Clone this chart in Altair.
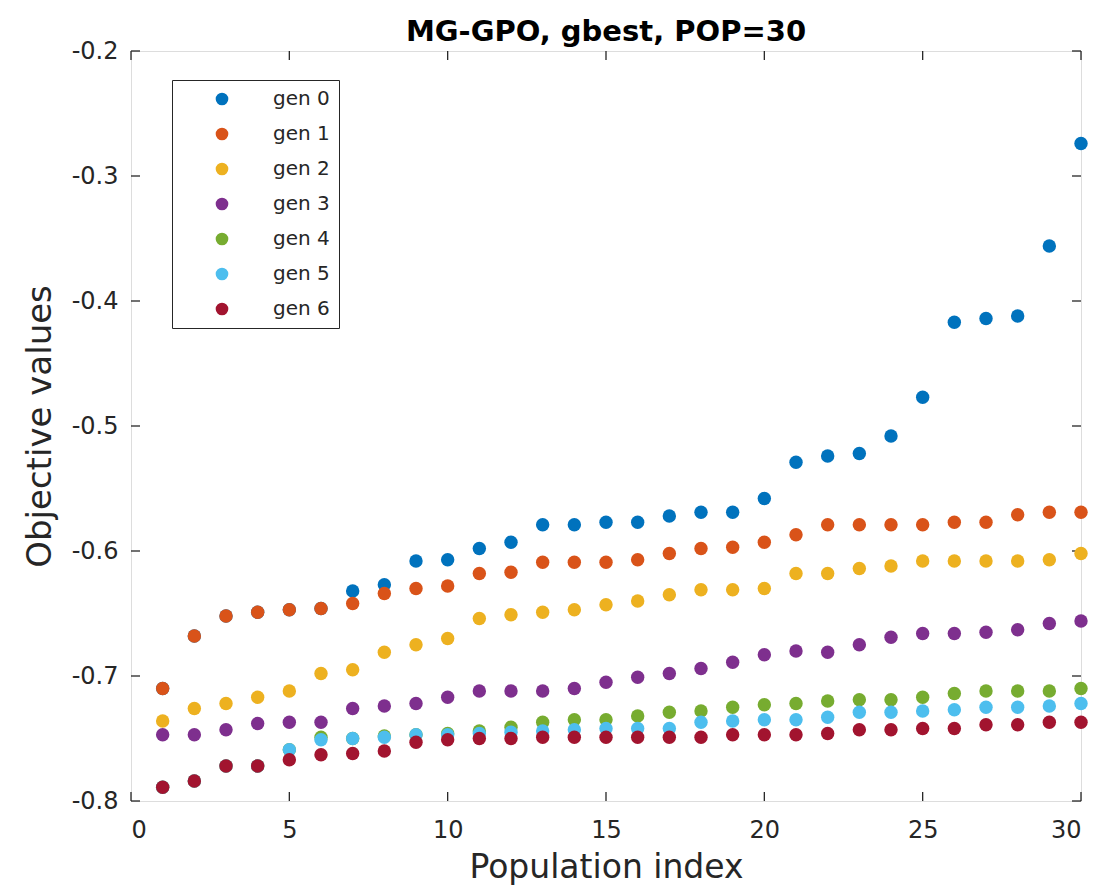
import altair as alt
import pandas as pd

idx = list(range(1, 31))
gen_names = ["gen 0", "gen 1", "gen 2", "gen 3", "gen 4", "gen 5", "gen 6"]
colors = ["#0072BD", "#D95319", "#EDB120", "#7E2F8E", "#77AC30", "#4DBEEE", "#A2142F"]

g1 = [-0.710, -0.668, -0.652, -0.649, -0.647, -0.646, -0.642, -0.634, -0.630, -0.628,
      -0.618, -0.617, -0.609, -0.609, -0.609, -0.607, -0.602, -0.598, -0.597, -0.593,
      -0.587, -0.579, -0.579, -0.579, -0.579, -0.577, -0.577, -0.571, -0.569, -0.569]
g0 = [-0.710, -0.668, -0.652, -0.649, -0.647, -0.646, -0.632, -0.627, -0.608, -0.607,
      -0.598, -0.593, -0.579, -0.579, -0.577, -0.577, -0.572, -0.569, -0.569, -0.558,
      -0.529, -0.524, -0.522, -0.508, -0.477, -0.417, -0.414, -0.412, -0.356, -0.274]
g2 = [-0.736, -0.726, -0.722, -0.717, -0.712, -0.698, -0.695, -0.681, -0.675, -0.670,
      -0.654, -0.651, -0.649, -0.647, -0.643, -0.640, -0.635, -0.631, -0.631, -0.630,
      -0.618, -0.618, -0.614, -0.612, -0.608, -0.608, -0.608, -0.608, -0.607, -0.602]
g3 = [-0.747, -0.747, -0.743, -0.738, -0.737, -0.737, -0.726, -0.724, -0.722, -0.717,
      -0.712, -0.712, -0.712, -0.710, -0.705, -0.701, -0.698, -0.694, -0.689, -0.683,
      -0.680, -0.681, -0.675, -0.669, -0.666, -0.666, -0.665, -0.663, -0.658, -0.656]
g4 = [-0.789, -0.784, -0.772, -0.772, -0.759, -0.749, -0.750, -0.748, -0.747, -0.746,
      -0.744, -0.741, -0.737, -0.735, -0.735, -0.732, -0.729, -0.728, -0.725, -0.723,
      -0.722, -0.720, -0.719, -0.719, -0.717, -0.714, -0.712, -0.712, -0.712, -0.710]
g5 = [-0.789, -0.784, -0.772, -0.772, -0.759, -0.751, -0.750, -0.749, -0.747, -0.747,
      -0.746, -0.745, -0.744, -0.743, -0.742, -0.742, -0.742, -0.737, -0.736, -0.735,
      -0.735, -0.733, -0.729, -0.729, -0.728, -0.727, -0.725, -0.725, -0.724, -0.722]
g6 = [-0.789, -0.784, -0.772, -0.772, -0.767, -0.763, -0.762, -0.760, -0.753, -0.751,
      -0.750, -0.750, -0.749, -0.749, -0.749, -0.749, -0.749, -0.749, -0.747, -0.747,
      -0.747, -0.746, -0.743, -0.743, -0.742, -0.742, -0.739, -0.739, -0.737, -0.737]

x_ticks = [0, 5, 10, 15, 20, 25, 30]
y_ticks = [-0.8, -0.7, -0.6, -0.5, -0.4, -0.3, -0.2]

series = [g0, g1, g2, g3, g4, g5, g6]
rows = []
for name, vals in zip(gen_names, series):
    for i, v in zip(idx, vals):
        rows.append({"idx": i, "val": v, "gen": name})
df = pd.DataFrame(rows)
df["ord"] = df["gen"].map({n: k for k, n in enumerate(gen_names)})

W, H = 950, 750
FONT = "DejaVu Sans"
AX = "#262626"

xs = alt.Scale(domain=[0, 30], nice=False, zero=False)
ys = alt.Scale(domain=[-0.8, -0.2], nice=False, zero=False)

ylab = "datum.value < 0 ? '-' + format(-datum.value, '.1f') : format(datum.value, '.1f')"

points = alt.Chart(df).mark_point(filled=True, shape="circle", size=180, opacity=1).encode(
    x=alt.X("idx:Q", scale=xs, axis=alt.Axis(
        values=x_ticks, title="Population index", ticks=False, tickSize=0, grid=False,
        labelFont=FONT, labelFontSize=24, labelColor=AX, labelPadding=17,
        titleFont=FONT, titleFontSize=33, titleFontWeight="normal", titleColor=AX,
        titlePadding=9, domain=False)),
    y=alt.Y("val:Q", scale=ys, axis=alt.Axis(
        values=y_ticks, title="Objective values", ticks=False, tickSize=0, grid=False,
        labelExpr=ylab,
        labelFont=FONT, labelFontSize=24, labelColor=AX, labelPadding=13,
        titleFont=FONT, titleFontSize=34, titleFontWeight="normal", titleColor=AX,
        titlePadding=14, domain=False)),
    color=alt.Color("gen:N", scale=alt.Scale(domain=gen_names, range=colors), legend=alt.Legend(
        title=None, orient="none", legendX=41, legendY=29, direction="vertical",
        strokeColor=AX, fillColor="white", padding=9, rowPadding=15,
        symbolType="circle", symbolSize=160, symbolStrokeWidth=0, symbolOffset=31,
        labelFont=FONT, labelFontSize=20, labelColor=AX, labelOffset=41,
        labelExpr="datum.label + '\u00a0\u00a0\u00a0'")),
    order=alt.Order("ord:Q"),
)

xt = pd.DataFrame({"t": x_ticks})
yt = pd.DataFrame({"t": y_ticks})
TL = 9
tick_style = dict(color=AX, strokeWidth=1.3)
xb = alt.Chart(xt).mark_rule(**tick_style).encode(x=alt.X("t:Q", scale=xs), y=alt.value(H), y2=alt.value(H - TL))
xtp = alt.Chart(xt).mark_rule(**tick_style).encode(x=alt.X("t:Q", scale=xs), y=alt.value(0), y2=alt.value(TL))
yl = alt.Chart(yt).mark_rule(**tick_style).encode(y=alt.Y("t:Q", scale=ys), x=alt.value(0), x2=alt.value(TL))
yr = alt.Chart(yt).mark_rule(**tick_style).encode(y=alt.Y("t:Q", scale=ys), x=alt.value(W), x2=alt.value(W - TL))

chart = alt.layer(xb, xtp, yl, yr, points).properties(
    width=W, height=H,
    title=alt.TitleParams("MG-GPO, gbest, POP=30", font=FONT, fontSize=29, fontWeight="bold",
                          color="black", anchor="middle", offset=12, dy=20),
    autosize=alt.AutoSizeParams(type="none"),
    padding={"left": 123, "top": 43, "right": 22, "bottom": 90},
).configure_view(stroke=AX, strokeWidth=1.5).configure(background="white")

chart.save("out.html", embed_options={"renderer": "svg", "actions": False})
